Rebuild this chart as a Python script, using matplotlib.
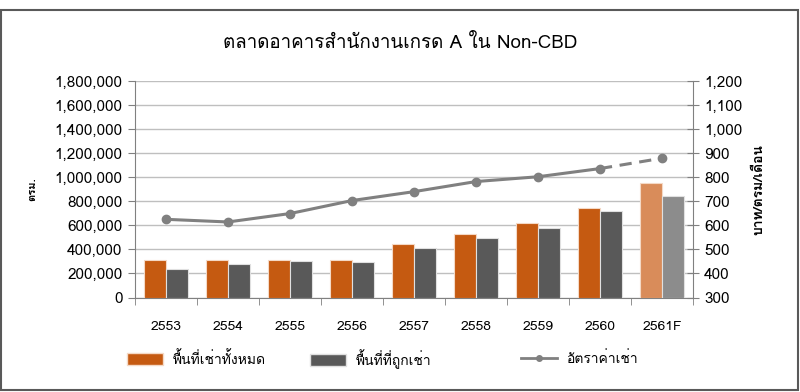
import numpy as np
import matplotlib
matplotlib.use("Agg")
import matplotlib.pyplot as plt
from matplotlib import font_manager
from matplotlib.ft2font import FT2Font
from matplotlib.patches import Patch, Rectangle
from matplotlib.lines import Line2D
from matplotlib.ticker import FuncFormatter

# data
years = ["2553", "2554", "2555", "2556", "2557", "2558", "2559", "2560", "2561F"]
total_space = [311000, 311000, 311000, 311000, 447000, 525000, 617000, 742000, 956000]
occupied_space = [240000, 281000, 306000, 295000, 412000, 492000, 578000, 717000, 845000]
rent = [625, 614, 649, 703, 740, 782, 802, 836, 879]

title = "ตลาดอาคารสำนักงานเกรด A ใน Non-CBD"
left_label = "ตรม."
right_label = "บาท/ตรม/เดือน"
legend_labels = ["พื้นที่เช่าทั้งหมด", "พื้นที่ที่ถูกเช่า", "อัตราค่าเช่า"]


def find_thai_font():
    # first installed family that has Thai glyphs
    for f in font_manager.fontManager.ttflist:
        try:
            ft = FT2Font(f.fname)
            if ft.get_char_index(0x0E01) and ft.get_char_index(0x0E48):
                return f.name
        except Exception:
            pass
    return None


thai = find_thai_font()
fams = [thai, "DejaVu Sans"] if thai else ["DejaVu Sans"]
plt.rcParams["font.family"] = fams

orange = "#C55A11"
dark = "#595959"
line_c = "#808080"

fig = plt.figure(figsize=(8, 3.92), dpi=100)
ax = fig.add_axes([135 / 800, 1 - 297.5 / 392, 558 / 800, 216.5 / 392])

x = np.arange(len(years))
w = 0.355
n = len(years)
fc1 = [orange] * (n - 1) + ["#D98C5A"]
fc2 = [dark] * (n - 1) + ["#8C8C8C"]
ax.bar(x - w / 2, total_space, w, color=fc1, edgecolor="#F4D9C6", linewidth=0.8, zorder=3)
ax.bar(x + w / 2, occupied_space, w, color=fc2, edgecolor="#E0E0E0", linewidth=0.8, zorder=3)

ax.set_xlim(-0.5, n - 0.5)
ax.set_ylim(0, 1800000)
ax.set_yticks(np.arange(0, 1800001, 200000))
ax.yaxis.set_major_formatter(FuncFormatter(lambda v, p: f"{int(v):,}"))
ax.grid(axis="y", color="#BFBFBF", linewidth=1, zorder=0)
ax.set_xticks(x)
ax.set_xticklabels(years)
ax.set_xticks(np.arange(-0.5, n, 1), minor=True)
ax.tick_params(axis="x", which="major", length=0, pad=17, labelsize=10)
ax.tick_params(axis="x", which="minor", length=5, color="#808080", direction="out")
ax.tick_params(axis="y", length=5, color="#808080", labelsize=11, pad=4)
for s in ["top", "right"]:
    ax.spines[s].set_visible(False)
ax.spines["left"].set_color("#808080")
ax.spines["bottom"].set_color("#808080")
ax.set_ylabel(left_label, fontsize=8, fontweight="bold", labelpad=12)

ax2 = ax.twinx()
ax2.set_ylim(300, 1200)
ax2.set_yticks(np.arange(300, 1201, 100))
ax2.yaxis.set_major_formatter(FuncFormatter(lambda v, p: f"{int(v):,}"))
ax2.tick_params(axis="y", length=8, direction="inout", color="#808080", labelsize=11, pad=4)
for s in ["top", "left", "bottom"]:
    ax2.spines[s].set_visible(False)
ax2.spines["right"].set_color("#808080")
ax2.set_ylabel(right_label, fontsize=10, fontweight="bold", labelpad=8)

ax2.plot(x[:-1], rent[:-1], color=line_c, linewidth=2.2, marker="o", markersize=6, zorder=4)
ax2.plot(x[-2:], rent[-2:], color=line_c, linewidth=2.2, linestyle=(0, (4, 2.5)), zorder=4)
ax2.plot(x[-1:], rent[-1:], color=line_c, marker="o", markersize=6, linestyle="none", zorder=4)

fig.text(0.5, 1 - 43 / 392, title, ha="center", va="center", fontsize=13.5)

# legend entries placed like the original
h1 = Patch(facecolor=orange, edgecolor="#F4D9C6")
h2 = Patch(facecolor=dark, edgecolor="#E0E0E0")
h3 = Line2D([0], [0], color=line_c, linewidth=2, marker="o", markersize=4)
for h, lab, xp in zip([h1, h2, h3], legend_labels, [127, 310, 521]):
    fig.legend([h], [lab], loc="center left", bbox_to_anchor=(xp / 800, 1 - 359 / 392),
               frameon=False, fontsize=10, handlelength=2.6, handleheight=0.9,
               handletextpad=0.7, borderpad=0, borderaxespad=0)

fig.add_artist(Rectangle((1 / 800, 1 - 390 / 392), 797 / 800, 380 / 392,
                         transform=fig.transFigure, fill=False,
                         edgecolor="#595959", linewidth=1.5))

fig.savefig("out.png", dpi=100)
